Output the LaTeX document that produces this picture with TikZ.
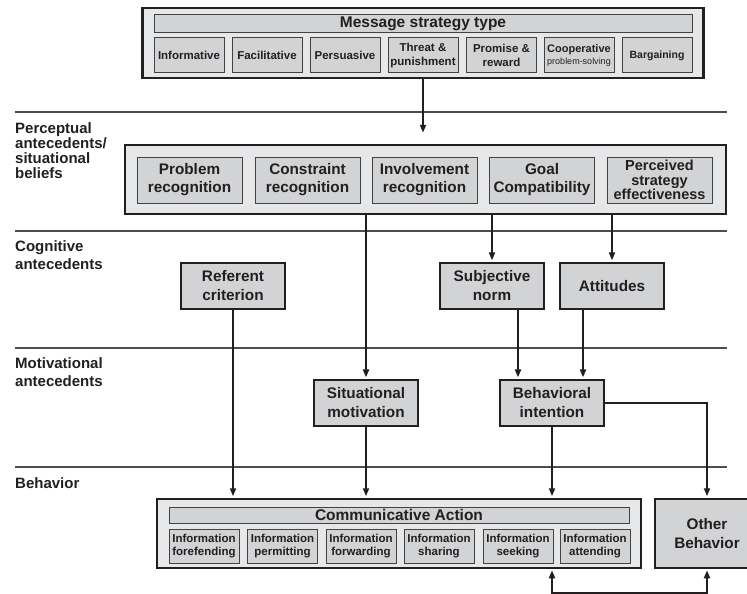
\documentclass[tikz,border=0pt]{standalone}
\usepackage{fontspec}
\setmainfont{Liberation Sans}
\usetikzlibrary{arrows.meta,calc}
\definecolor{cmInk}{HTML}{231F20}
\definecolor{cmOuterFill}{HTML}{E6E7E8}
\definecolor{cmInnerFill}{HTML}{D1D3D4}
\definecolor{cmRule}{HTML}{4D4D4F}
\tikzset{
  laneTitle/.style={font=\fontsize{15}{18}\selectfont\bfseries, anchor=north west,
    align=left, inner sep=0pt, text=cmInk},
  groupBox/.style={rectangle, draw=cmInk, fill=cmOuterFill, line width=2.5pt, inner sep=0pt},
  groupTitle/.style={rectangle, draw=cmInk!85, fill=cmInnerFill, line width=1pt, inner sep=0pt,
    font=\fontsize{15.5}{17}\selectfont\bfseries, text=cmInk},
  itemBox/.style={rectangle, draw=cmInk!85, fill=cmInnerFill, line width=1pt, inner sep=0pt,
    align=center, text=cmInk, minimum width=70pt, minimum height=35pt,
    font=\fontsize{11.5}{13.5}\selectfont\bfseries},
  beliefBox/.style={itemBox, minimum width=105pt, minimum height=46pt,
    font=\fontsize{15.3}{18}\selectfont\bfseries},
  stageBox/.style={rectangle, draw=cmInk, fill=cmInnerFill, line width=2.2pt, inner sep=0pt,
    align=center, text=cmInk, minimum width=104pt, minimum height=46pt,
    font=\fontsize{15.3}{19}\selectfont\bfseries},
  laneRule/.style={draw=cmRule, line width=1.1pt},
  flow/.style={-{Triangle[length=8pt, width=6pt]}, line width=2.4pt, color=cmInk, shorten >=1.5pt},
  flowBoth/.style={{Triangle[length=8pt, width=6pt]}-{Triangle[length=8pt, width=6pt]},
    line width=2.4pt, color=cmInk, shorten >=1pt, shorten <=1pt},
}
\begin{document}
\begin{tikzpicture}[x=1pt,y=-1pt]
  \useasboundingbox (0,0) rectangle (747,594);

  \draw[laneRule] (15,112) -- (727,112);
  \draw[laneRule] (15,231) -- (727,231);
  \draw[laneRule] (15,348) -- (727,348);
  \draw[laneRule] (15,467) -- (727,467);

  \node[laneTitle, font=\fontsize{15}{15}\selectfont\bfseries] (lblPercept) at (15,122)
    {Perceptual\\antecedents/\\situational\\beliefs};
  \node[laneTitle] (lblCognitive) at (15,240) {Cognitive\\antecedents};
  \node[laneTitle] (lblMotivational) at (15,357) {Motivational\\antecedents};
  \node[laneTitle] (lblBehavior) at (15,477) {Behavior};

  \node[groupBox, minimum width=561pt, minimum height=70pt] (message) at (423,43) {};
  \node[groupTitle, minimum width=538pt, minimum height=18pt] (messageTitle) at (423,24)
    {Message strategy type};
  \node[itemBox] (informative) at (189,55.5) {Informative};
  \node[itemBox] (facilitative) at (267,55.5) {Facilitative};
  \node[itemBox] (persuasive) at (345,55.5) {Persuasive};
  \node[itemBox] (threat) at (423,55.5) {Threat \&\\punishment};
  \node[itemBox] (promise) at (501.5,55.5) {Promise \&\\reward};
  \node[itemBox, font=\fontsize{11}{13}\selectfont\bfseries] (cooperative) at (579,55.5)
    {Cooperative\\[-1pt]{\fontsize{9}{10}\selectfont\mdseries problem-solving}};
  \node[itemBox, font=\fontsize{10.5}{12}\selectfont\bfseries] (bargaining) at (657,55.5) {Bargaining};

  \node[groupBox, minimum width=601pt, minimum height=69pt] (percept) at (425.5,179.5) {};
  \node[beliefBox] (problem) at (189.5,180) {Problem\\recognition};
  \node[beliefBox] (constraint) at (307.5,180) {Constraint\\recognition};
  \node[beliefBox] (involvement) at (424.5,180) {Involvement\\recognition};
  \node[beliefBox] (goal) at (542,180) {Goal\\Compatibility};
  \node[beliefBox, font=\fontsize{14.5}{14.5}\selectfont\bfseries] (perceived) at (659.5,180)
    {Perceived\\strategy\\effectiveness};

  \node[stageBox] (referent) at (233,286) {Referent\\criterion};
  \node[stageBox] (subjnorm) at (492,286) {Subjective\\norm};
  \node[stageBox] (attitudes) at (612,286) {Attitudes};

  \node[stageBox] (sitmot) at (366,403) {Situational\\motivation};
  \node[stageBox] (behint) at (552,403) {Behavioral\\intention};

  \node[groupBox, minimum width=484pt, minimum height=69pt] (commact) at (399,533.5) {};
  \node[groupTitle, minimum width=460pt, minimum height=16pt] (commactTitle) at (399,515)
    {Communicative Action};
  \node[itemBox, minimum height=34pt] (forefending) at (204,546) {Information\\forefending};
  \node[itemBox, minimum height=34pt] (permitting) at (282.5,546) {Information\\permitting};
  \node[itemBox, minimum height=34pt] (forwarding) at (361,546) {Information\\forwarding};
  \node[itemBox, minimum height=34pt] (sharing) at (439,546) {Information\\sharing};
  \node[itemBox, minimum height=34pt] (seeking) at (518,546) {Information\\seeking};
  \node[itemBox, minimum height=34pt] (attending) at (595,546) {Information\\attending};

  \node[stageBox, line width=2.5pt, minimum width=104pt, minimum height=69pt] (other) at (707,533.5)
    {Other\\Behavior};

  \draw[flow, shorten >=11pt] (message.south) -- (message.south |- percept.north);
  \draw[flow] (sitmot.north |- percept.south) -- (sitmot.north);
  \draw[flow] (subjnorm.north |- percept.south) -- (subjnorm.north);
  \draw[flow] (attitudes.north |- percept.south) -- (attitudes.north);
  \draw[flow] ([xshift=-34pt]behint.north |- subjnorm.south) -- ([xshift=-34pt]behint.north);
  \draw[flow] ([xshift=31pt]behint.north |- attitudes.south) -- ([xshift=31pt]behint.north);
  \draw[flow] (referent.south) -- (referent.south |- commact.north);
  \draw[flow] (sitmot.south) -- (sitmot.south |- commact.north);
  \draw[flow] (behint.south) -- (behint.south |- commact.north);
  \draw[flow] (behint.east) -| (other.north);
  \draw[flowBoth] (behint.south |- commact.south) -- ++(0,24) -| (other.south);
\end{tikzpicture}
\end{document}
